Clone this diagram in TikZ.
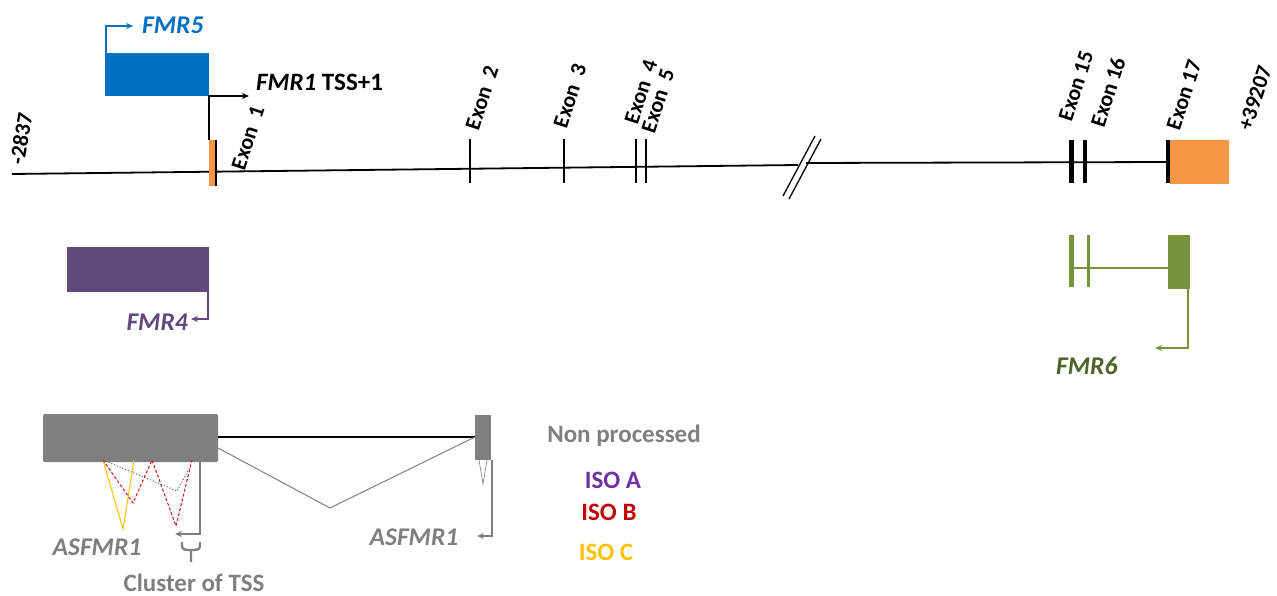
\documentclass[tikz,border=0pt]{standalone}
\usepackage{fontspec}
\setmainfont{Carlito}
\usetikzlibrary{arrows.meta}
\definecolor{fmrblue}{HTML}{0070C0}
\definecolor{fmrorange}{HTML}{F79646}
\definecolor{fmrpurple}{HTML}{604A7B}
\definecolor{fmrgreen}{HTML}{77933C}
\definecolor{fmrdkgreen}{HTML}{4F6228}
\definecolor{fmrgray}{HTML}{7F7F7F}
\definecolor{isoa}{HTML}{7030A0}
\definecolor{isob}{HTML}{C00000}
\definecolor{isoc}{HTML}{FFC000}
\definecolor{isoadot}{HTML}{5A5A8C}
\begin{document}
\begin{tikzpicture}[x=1pt,y=-1pt,
  blk/.style={draw=none,inner sep=0,outer sep=0,anchor=north west},
  exlbl/.style={font=\fontsize{22}{22}\selectfont\bfseries,rotate=72,inner sep=0},
  coord/.style={font=\fontsize{22}{22}\selectfont\bfseries,inner sep=0},
  gname/.style={font=\fontsize{25.5}{25.5}\selectfont\bfseries\itshape,inner sep=0},
  legend/.style={font=\fontsize{25}{25}\selectfont\bfseries,inner sep=0},
  tip/.style={-{Stealth[length=7pt,width=6pt]}},
  tick/.style={line width=2.8pt},
  gline/.style={line width=1.8pt}]
\useasboundingbox (0,0) rectangle (1277,596);

% ---------------- main gene line ----------------
\coordinate (L0) at (12,174);
\coordinate (L1) at (798,165);
\coordinate (R0) at (806,163);
\node[blk,fill=fmrorange,minimum width=59pt,minimum height=44pt] (ex17) at (1170,140) {};
\draw[gline] (L0) -- (L1);
\draw[gline] (R0) -- (ex17.west);
% break marks
\coordinate (b1a) at (783,196); \coordinate (b1b) at (815,136);
\coordinate (b2a) at (789,199); \coordinate (b2b) at (821,139);
\draw[line width=1.3pt] (b1a) -- (b1b);
\draw[line width=1.3pt] (b2a) -- (b2b);

% exon 1
\node[blk,fill=fmrorange,minimum width=6pt,minimum height=46pt] (ex1) at (209,140) {};
\draw[line width=2.8pt] (216,140) -- (216,186);
% exon ticks
\draw[tick] (470,139) -- (470,183);
\draw[tick] (564,139) -- (564,183);
\draw[line width=2.3pt] (636,139) -- (636,183);
\draw[line width=2.3pt] (646,139) -- (646,183);
\draw[line width=5pt] (1071,140) -- (1071,183);
\draw[line width=3.2pt] (1085,140) -- (1085,183);
\draw[line width=3.2pt] (1168,140) -- (1168,183);

% exon labels
\node[exlbl] (lx1) at (248,138) {Exon\ \ 1};
\node[exlbl] (lx2) at (482,98) {Exon\ \ 2};
\node[exlbl] (lx3) at (570,96) {Exon\ \ 3};
\node[exlbl] (lx4) at (641,92) {Exon\ \ 4};
\node[exlbl] (lx5) at (658,101) {Exon\ \ 5};
\node[exlbl] (lx15) at (1076,86) {Exon 15};
\node[exlbl] (lx16) at (1108,92) {Exon 16};
\node[exlbl] (lx17) at (1184,95) {Exon 17};
\node[coord,rotate=80] (cL) at (21,139) {-2837};
\node[coord,rotate=72] (cR) at (1255,98) {+39207};

% FMR5 and FMR1 TSS
\node[blk,fill=fmrblue,minimum width=104pt,minimum height=43pt] (fmr5) at (105,53) {};
\draw[fmrblue,line width=1.8pt,tip] ([xshift=1pt]fmr5.north west) |- ++(27,-27);
\node[gname,text=fmrblue,anchor=west] (t5) at (142,25) {FMR5};
\draw[line width=1.8pt,tip] (ex1.north west) -- (fmr5.south east) -- ++(40,0);
\node[font=\fontsize{25}{25}\selectfont\bfseries,inner sep=0,anchor=west] (t1) at (256,82) {\textit{FMR1} TSS+1};

% FMR4
\node[blk,fill=fmrpurple,minimum width=142pt,minimum height=45pt] (fmr4) at (67,247) {};
\draw[fmrpurple,line width=1.8pt,tip] ([xshift=-1pt]fmr4.south east) |- ++(-17,27);
\node[gname,text=fmrpurple,anchor=east] (t4) at (188,322) {FMR4};

% FMR6
\node[blk,fill=fmrgreen,minimum width=5pt,minimum height=52pt] (g1) at (1069,235) {};
\node[blk,fill=fmrgreen,minimum width=3pt,minimum height=52pt] (g2) at (1087,235) {};
\node[blk,fill=fmrgreen,minimum width=22pt,minimum height=54pt] (fmr6) at (1168,235) {};
\draw[fmrgreen,line width=1.8pt] (g1.east |- 0,268) -- (fmr6.west |- 0,268);
\draw[fmrgreen,line width=1.8pt,tip] ([xshift=-2pt]fmr6.south east) |- ++(-33,59);
\node[gname,text=fmrdkgreen,anchor=west] (t6) at (1056,366) {FMR6};

% ASFMR1
\node[blk,fill=fmrgray,rounded corners=1.5pt,minimum width=175pt,minimum height=48pt] (as1) at (43,414) {};
\node[blk,fill=fmrgray,minimum width=16pt,minimum height=45pt] (as2) at (475,415) {};
\draw[line width=2pt] (as1.east |- 0,437) -- (as2.west |- 0,437);
\coordinate (sp) at (330,508);
\draw[fmrgray,line width=1pt] (218,448) -- (sp) -- (475,437);
\draw[fmrgray,line width=0.6pt] (479,460) -- (483,484) -- (487,460);
\draw[fmrgray,line width=2.2pt,tip] ([xshift=-18pt]as1.south east) |- ++(-25,72);
\draw[fmrgray,line width=2.2pt,tip] ([xshift=1pt]as2.south east) |- ++(-15,76);
% splice variants
\draw[isoc,line width=1pt] (103,460) -- (123,529) -- (134,460);
\draw[isob!85!white,line width=1.1pt,dash pattern=on 3pt off 2pt] (103,460) -- (133,503) -- (152,460) -- (176,526) -- (192,460);
\draw[isoadot,line width=1pt,dotted] (103,460) -- (177,491) -- (190,467);
% cluster brace
\draw[fmrgray,line width=2.4pt] (182,542) -- (182,546) .. controls (182,550) and (186,550) .. (191,550) -- (191,562);
\draw[fmrgray,line width=2.4pt] (200,542) -- (200,546) .. controls (200,550) and (196,550) .. (191,550);
\node[gname,text=fmrgray] (ta1) at (97,547) {ASFMR1};
\node[gname,text=fmrgray] (ta2) at (414,537) {ASFMR1};
\node[legend,text=fmrgray] (tc) at (194,583) {Cluster of TSS};

% legend
\node[legend,text=fmrgray] (np) at (624,436) {Non processed};
\node[legend,text=isoa] (ia) at (613,480) {ISO A};
\node[legend,text=isob] (ib) at (609,512) {ISO B};
\node[legend,text=isoc] (ic) at (606,552) {ISO C};
\end{tikzpicture}
\end{document}
